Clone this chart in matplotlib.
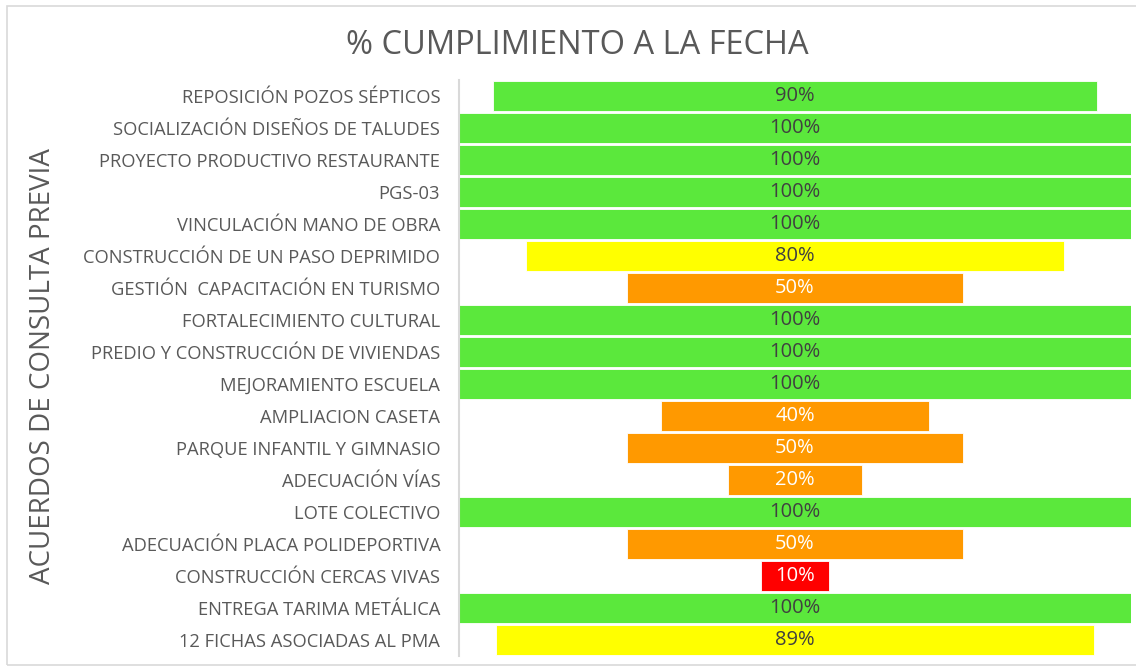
import matplotlib
matplotlib.use("Agg")
import matplotlib.pyplot as plt
from matplotlib.patches import Rectangle

categories = [
    "REPOSICIÓN POZOS SÉPTICOS",
    "SOCIALIZACIÓN DISEÑOS DE TALUDES",
    "PROYECTO PRODUCTIVO RESTAURANTE",
    "PGS-03",
    "VINCULACIÓN MANO DE OBRA",
    "CONSTRUCCIÓN DE UN PASO DEPRIMIDO",
    "GESTIÓN  CAPACITACIÓN EN TURISMO",
    "FORTALECIMIENTO CULTURAL",
    "PREDIO Y CONSTRUCCIÓN DE VIVIENDAS",
    "MEJORAMIENTO ESCUELA",
    "AMPLIACION CASETA",
    "PARQUE INFANTIL Y GIMNASIO",
    "ADECUACIÓN VÍAS",
    "LOTE COLECTIVO",
    "ADECUACIÓN PLACA POLIDEPORTIVA",
    "CONSTRUCCIÓN CERCAS VIVAS",
    "ENTREGA TARIMA METÁLICA",
    "12 FICHAS ASOCIADAS AL PMA",
]
values = [90, 100, 100, 100, 100, 80, 50, 100, 100, 100, 40, 50, 20, 100, 50, 10, 100, 89]

title = "% CUMPLIMIENTO A LA FECHA"
ylabel = "ACUERDOS DE CONSULTA PREVIA"


def color_for(v):
    if v >= 90:
        return "#5BE83C"
    if v >= 60:
        return "#FFFF00"
    if v >= 15:
        return "#FF9900"
    return "#FF0000"


def text_color_for(v):
    return "#404040" if v >= 60 else "#FFFFFF"


plt.rcParams["font.family"] = ["Open Sans", "DejaVu Sans"]

fig = plt.figure(figsize=(11.36, 6.66), dpi=100)
W, H = 1136, 666

# outer chart border
fig.patches.append(Rectangle((7 / W, 1 - 665 / H), 1.2, (665 - 6) / H,
                             transform=fig.transFigure, fill=False,
                             edgecolor="#D9D9D9", linewidth=1.2))

ax = fig.add_axes([459 / W, 1 - 656 / H, (1131 - 459) / W, (656 - 80) / H])

n = len(categories)
ypos = list(range(n))
lefts = [50 - v / 2 for v in values]
cols = [color_for(v) for v in values]
ax.barh(ypos, values, left=lefts, height=0.92, color=cols,
        edgecolor="white", linewidth=0.6)
for y, v in zip(ypos, values):
    ax.text(50, y, f"{v}%", ha="center", va="center", fontsize=14.5,
            color=text_color_for(v))

ax.set_xlim(0, 100)
ax.set_ylim(n - 0.5, -0.5)
ax.set_yticks(ypos)
ax.set_yticklabels(categories, fontsize=13.2, color="#595959")
ax.tick_params(axis="y", length=0, pad=13.5)
ax.set_xticks([])
for s in ["top", "right", "bottom"]:
    ax.spines[s].set_visible(False)
ax.spines["left"].set_color("#D9D9D9")
ax.spines["left"].set_linewidth(1.5)

fig.text(577 / W, 1 - 45 / H, title, ha="center", va="center",
         fontsize=23.5, color="#595959")
fig.text(43 / W, 1 - 366 / H, ylabel, ha="center", va="center",
         rotation=90, fontsize=20, color="#595959")

fig.savefig("out.png", dpi=100)
